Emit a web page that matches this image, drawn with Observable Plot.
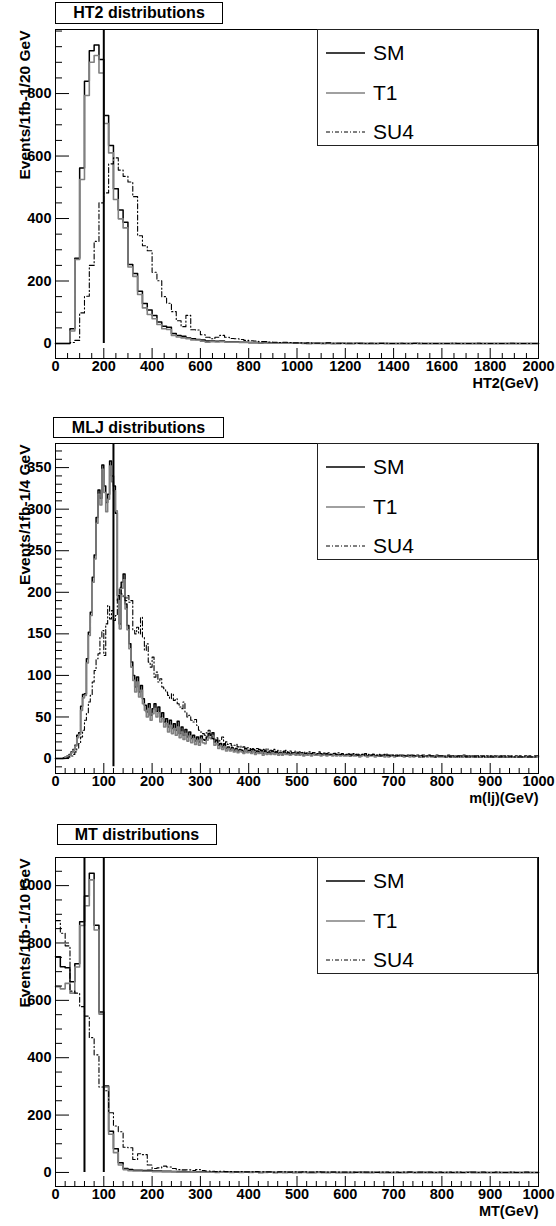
<!DOCTYPE html>
<html>
<head>
<meta charset="utf-8">
<script src="https://cdn.jsdelivr.net/npm/d3@7"></script>
<script src="https://cdn.jsdelivr.net/npm/@observablehq/plot@0.6"></script>
<style>
  body { margin: 0; background: #fff; }
  #page { position: relative; width: 556px; height: 1226px; overflow: hidden; font-family: "Liberation Sans", Arial, sans-serif; }
  #page svg { position: absolute; left: 0; }
  .tbox { position: absolute; box-sizing: border-box; border: 1px solid #000; background: #fff; font-weight: bold; font-size: 16px; text-align: center; }
  .lbox { position: absolute; box-sizing: border-box; border: 1px solid #222; background: #fff; }
  .lentry { position: absolute; left: 8px; height: 24px; font-size: 21px; line-height: 24px; }
  .lentry svg { position: absolute; left: 0; top: 6px; }
  .lentry span { position: absolute; left: 47px; top: 0; white-space: nowrap; }
</style>
</head>
<body>
<div id="page"></div>
<script>
// ---------------- data ----------------
const seriesNames = ["SM", "T1", "SU4"];

// Panel 1: HT2, 20 GeV bins from 0 to 2000
const ht2BinWidth = 20;
const ht2SM = [
  0,0,0,47,273,562,839,937,955,909,
  730,634,495,427,388,253,224,167,128,107,
  90,69,55,52,32,26,23,18,15,13,
  11,8,8,7,8,6,5,5,4,4,
  3,3,2,3,2,2,1,2,1,1,
  1,1,0,1,1,0,1,0,0,1,
  0,0,1,0,0,0,0,1,0,0,
  0,0,0,0,1,0,0,0,0,0,
  0,0,0,0,0,0,0,0,0,0,
  0,0,0,0,0,0,0,0,0,0
];
const ht2T1 = [
  0,0,0,40,269,525,794,900,922,866,
  704,610,461,399,370,245,215,157,114,93,
  79,61,47,45,26,21,18,15,11,11,
  7,4,6,5,6,5,4,4,3,3,
  2,2,2,2,1,1,1,1,1,1,
  1,0,1,0,0,1,0,0,1,0,
  0,0,0,1,0,0,0,0,0,0,
  0,0,0,0,0,0,0,0,0,0,
  0,0,0,0,0,0,0,0,0,0,
  0,0,0,0,0,0,0,0,0,0
];
const ht2SU4 = [
  0,0,0,3,10,98,151,250,327,450,
  482,575,594,555,535,517,470,345,313,297,
  228,201,150,129,102,73,54,90,44,43,
  28,20,15,20,26,20,16,15,13,10,
  9,8,6,6,5,4,3,4,3,2,
  2,1,2,1,1,1,2,1,1,0,
  1,1,0,1,0,1,0,0,1,0,
  0,1,0,0,0,1,0,0,0,0,
  0,0,1,0,0,0,0,1,0,0,
  0,0,0,0,1,0,0,0,0,0
];
const ht2Cuts = [200];
const ht2XTicks = [0,200,400,600,800,1000,1200,1400,1600,1800,2000];
const ht2YTicks = [0,200,400,600,800];

// Panel 2: m(lj), 4 GeV bins from 0 to 1000
const mljBinWidth = 4;
const mljSM = [
  0,0,0,0,1,2,3,5,8,11,
  16,28,31,63,77,78,120,152,176,218,
  245,290,323,313,353,328,308,318,358,340,
  328,295,196,162,212,222,186,160,138,116,
  100,86,98,80,88,72,64,56,66,52,
  60,66,57,62,50,55,44,48,38,46,
  36,42,34,45,30,38,28,35,26,32,
  24,28,21,26,20,27,23,22,26,30,
  28,31,20,22,16,18,14,17,12,14,
  11,13,10,12,9,11,10,8,12,9,
  10,8,11,7,9,8,10,6,9,7,
  8,6,9,7,8,6,7,5,8,6,
  7,5,6,7,5,6,
  5,7,4,6,5,6,4,7,5,5,6,4,5,6,4,5,5,4,6,4,5,4,5,4,
  4,5,3,5,4,4,5,3,4,5,4,3,4,4,5,3,4,3,4,4,3,5,3,4,4,
  3,4,3,4,4,3,3,4,3,4,3,3,4,2,3,4,3,3,4,3,3,2,4,3,3,
  3,3,2,4,3,3,2,3,3,3,2,4,3,2,3,3,2,3,3,2,3,3,2,3,2,
  3,2,3,3,2,3,2,3,2,3,3,2,2,3,2,3,2,2,3,2,3,2,2,3,3
];
const mljT1 = [
  0,0,0,0,0,2,3,4,7,10,
  15,25,29,58,73,76,115,148,172,212,
  240,283,318,305,348,320,297,312,352,333,
  322,298,190,156,205,215,180,155,132,110,
  94,80,92,74,82,66,58,50,60,46,
  54,60,50,55,44,48,38,42,32,40,
  30,36,28,38,25,32,23,30,21,27,
  19,24,17,22,16,23,19,18,22,26,
  24,27,16,18,12,15,11,14,9,12,
  9,11,8,10,7,9,8,6,10,7,
  8,6,9,5,7,6,8,4,7,5,
  6,5,7,5,6,4,6,4,6,5,
  5,4,5,6,4,5,
  4,6,3,5,4,5,3,6,4,4,5,3,4,5,3,4,4,3,5,3,4,3,4,3,
  3,4,3,4,3,3,4,2,3,4,3,2,3,3,4,2,3,3,3,3,2,4,2,3,3,
  2,3,3,3,3,2,3,3,2,3,2,3,3,2,2,3,3,2,3,2,2,2,3,2,2,
  2,3,2,3,2,2,2,3,2,2,2,3,2,2,2,3,2,2,2,2,2,3,2,2,2,
  2,2,2,3,2,2,2,2,2,2,3,2,2,2,2,2,2,2,2,2,2,2,2,2,2
];
const mljSU4 = [
  0,0,0,0,0,0,1,2,3,5,
  8,12,18,26,34,46,55,68,76,92,
  106,120,126,146,154,124,162,184,168,178,
  166,172,192,206,198,194,190,196,188,190,
  154,150,158,150,170,146,130,138,116,110,
  122,98,104,92,96,86,84,80,76,72,
  78,70,72,66,62,60,68,56,50,52,
  46,44,47,40,34,32,30,28,31,34,
  28,24,22,25,20,22,26,18,20,17,
  18,15,16,17,14,15,13,14,12,13,
  12,
  11,12,10,12,11,9,11,10,12,9,10,9,11,8,10,9,8,9,10,8,9,7,8,9,7,
  8,7,8,6,7,8,6,7,7,6,8,6,7,5,6,7,5,6,6,5,7,5,6,5,
  5,6,5,4,6,5,4,5,5,4,6,4,5,4,5,4,4,5,3,4,5,4,4,3,4,
  4,3,4,4,3,4,3,3,4,3,4,3,3,3,4,2,3,3,4,3,3,2,3,3,3,
  3,2,3,3,2,3,3,2,3,2,3,3,2,3,2,2,3,2,3,2,2,3,2,2,3,
  2,2,3,2,2,2,3,2,2,2,2,3,2,2,2,2,2,3,2,2,2,2,2,2,2
];
const mljCuts = [120];
const mljXTicks = [0,100,200,300,400,500,600,700,800,900,1000];
const mljYTicks = [0,50,100,150,200,250,300,350];

// Panel 3: MT, 10 GeV bins from 0 to 1000
const mtBinWidth = 10;
const mtSM = [
  752,717,714,665,728,874,964,1043,862,559,
  301,144,83,34,14,10,8,8,7,8,
  5,5,4,4,3,3,3,2,2,2,
  2,1,2,1,1,2,1,1,1,1,
  1,1,0,1,1,0,1,0,1,0,
  0,1,0,0,1,0,0,1,0,0,
  0,0,1,0,0,0,1,0,0,0,
  0,0,0,1,0,0,0,0,0,0,
  0,0,0,0,0,1,0,0,0,0,
  0,0,0,0,0,0,0,0,0,0
];
const mtT1 = [
  648,640,659,625,716,861,930,1020,845,552,
  298,133,69,26,10,6,5,5,4,4,
  3,3,2,2,2,1,1,1,2,1,
  1,1,1,0,1,1,0,1,0,1,
  0,1,0,0,1,0,0,1,0,0,
  1,0,0,0,0,1,0,0,0,0,
  0,0,0,1,0,0,0,0,0,0,
  0,0,0,0,0,0,1,0,0,0,
  0,0,0,0,0,0,0,0,0,0,
  0,0,0,0,0,0,0,0,0,0
];
const mtSU4 = [
  878,834,790,632,625,578,545,470,410,298,
  285,208,162,142,88,86,45,65,62,26,
  14,16,22,19,14,10,9,9,7,10,
  7,5,4,3,4,3,3,2,3,2,
  2,3,2,2,2,1,2,2,1,2,
  1,2,1,1,2,1,1,1,1,1,
  1,1,0,1,1,1,0,1,1,0,
  1,0,1,1,0,1,0,1,0,1,
  0,1,0,1,0,0,1,0,1,0,
  0,1,0,0,1,0,0,1,0,0
];
const mtCuts = [60, 100];
const mtXTicks = [0,100,200,300,400,500,600,700,800,900,1000];
const mtYTicks = [0,200,400,600,800,1000];

// ---------------- drawing ----------------
const styles = {
  SM:  {stroke: "#000000", strokeWidth: 1.5, dash: null},
  T1:  {stroke: "#808080", strokeWidth: 1.6, dash: null},
  SU4: {stroke: "#000000", strokeWidth: 1.1, dash: "5,2.5,1.2,2.5"}
};

function steps(values, w) {
  const pts = values.map((v, i) => ({x: i * w, y: v}));
  pts.push({x: values.length * w, y: values[values.length - 1]});
  return pts;
}

const page = document.getElementById("page");
const FONT = "Liberation Sans, Arial, Helvetica, sans-serif";

function panel(cfg) {
  const [x0, x1] = cfg.xDomain;
  const [y0, y1] = cfg.yDomain;
  const minorX = d3.range(x0, x1 + 1e-9, cfg.xMinor).filter(v => !cfg.xTicks.includes(v));
  const minorY = d3.range(Math.ceil(y0 / cfg.yMinor) * cfg.yMinor, y1, cfg.yMinor).filter(v => !cfg.yTicks.includes(v));
  const series = [
    ["SM", cfg.sm], ["T1", cfg.t1], ["SU4", cfg.su4]
  ];
  const lineMarks = series.map(([name, vals]) => Plot.line(steps(vals, cfg.bw), {
    x: "x", y: "y", curve: "step-after",
    stroke: styles[name].stroke, strokeWidth: styles[name].strokeWidth,
    strokeDasharray: styles[name].dash
  }));
  const chart = Plot.plot({
    width: 556,
    height: cfg.height,
    marginLeft: 55, marginRight: 18, marginTop: 29, marginBottom: cfg.marginBottom,
    x: {domain: cfg.xDomain},
    y: {domain: cfg.yDomain},
    style: {fontFamily: FONT, background: "transparent", overflow: "visible"},
    marks: [
      ...lineMarks,
      Plot.ruleX(cfg.cuts, {x: d => d, y1: () => cfg.cutBottom, y2: () => y1, stroke: "#000", strokeWidth: 2}),
      Plot.axisX(minorX, {anchor: "bottom", tickSize: -5, fill: "none", label: null}),
      Plot.axisX(cfg.xTicks, {anchor: "bottom", tickSize: -10, tickPadding: 12, label: null,
        fontSize: 14.5, fontWeight: "bold", fill: "#000", tickFormat: d => String(d)}),
      Plot.axisY(minorY, {anchor: "left", tickSize: -7, fill: "none", label: null}),
      Plot.axisY(cfg.yTicks, {anchor: "left", tickSize: -14, tickPadding: 18, label: null,
        fontSize: 14.5, fontWeight: "bold", fill: "#000", tickFormat: d => String(d)}),
      Plot.frame({stroke: "#000", strokeWidth: 1}),
      Plot.text([cfg.xLabel], {frameAnchor: "bottom-right", text: d => d, textAnchor: "end", dy: 29,
        fontSize: 14.5, fontWeight: "bold", fill: "#000"}),
      Plot.text([cfg.yLabel], {frameAnchor: "top-left", text: d => d, textAnchor: "end", rotate: -90,
        dx: -37, dy: 1, fontSize: 15.5, fontWeight: "bold", fill: "#000"})
    ]
  });
  chart.style.top = cfg.top + "px";
  page.appendChild(chart);

  // title box
  const t = document.createElement("div");
  t.className = "tbox";
  Object.assign(t.style, {left: cfg.titleBox[0] + "px", top: cfg.titleBox[1] + "px",
    width: cfg.titleBox[2] + "px", height: cfg.titleBox[3] + "px", lineHeight: (cfg.titleBox[3] - 2) + "px"});
  t.textContent = cfg.title;
  page.appendChild(t);

  // legend box
  const lg = document.createElement("div");
  lg.className = "lbox";
  Object.assign(lg.style, {left: "317px", top: (cfg.top + 29) + "px", width: "221px", height: "117px"});
  const offs = [11, 51, 90];
  seriesNames.forEach((name, i) => {
    const e = document.createElement("div");
    e.className = "lentry";
    e.style.top = offs[i] + "px";
    const st = styles[name];
    e.innerHTML = `<svg width="40" height="12"><line x1="0" x2="39" y1="6" y2="6" stroke="${st.stroke}" stroke-width="${name === "SU4" ? 1 : 1.4}" ${st.dash ? `stroke-dasharray="4,2,1,2"` : ""}/></svg><span>${name}</span>`;
    lg.appendChild(e);
  });
  page.appendChild(lg);
}

panel({
  top: 0, height: 390, marginBottom: 32,
  xDomain: [0, 2000], yDomain: [-48, 1005],
  bw: ht2BinWidth, sm: ht2SM, t1: ht2T1, su4: ht2SU4,
  cuts: ht2Cuts, cutBottom: 0,
  xTicks: ht2XTicks, xMinor: 50, yTicks: ht2YTicks, yMinor: 50,
  xLabel: "HT2(GeV)", yLabel: "Events/1fb-1/20 GeV",
  title: "HT2 distributions", titleBox: [55, 2, 168, 22]
});
panel({
  top: 414, height: 391, marginBottom: 32,
  xDomain: [0, 1000], yDomain: [-18, 379],
  bw: mljBinWidth, sm: mljSM, t1: mljT1, su4: mljSU4,
  cuts: mljCuts, cutBottom: -10,
  xTicks: mljXTicks, xMinor: 20, yTicks: mljYTicks, yMinor: 10,
  xLabel: "m(lj)(GeV)", yLabel: "Events/1fb-1/4 GeV",
  title: "MLJ distributions", titleBox: [53, 417, 171, 21]
});
panel({
  top: 828, height: 396, marginBottom: 38,
  xDomain: [0, 1000], yDomain: [-49, 1098],
  bw: mtBinWidth, sm: mtSM, t1: mtT1, su4: mtSU4,
  cuts: mtCuts, cutBottom: 0,
  xTicks: mtXTicks, xMinor: 20, yTicks: mtYTicks, yMinor: 50,
  xLabel: "MT(GeV)", yLabel: "Events/1fb-1/10 GeV",
  title: "MT distributions", titleBox: [57, 824, 160, 21]
});
</script>
</body>
</html>
